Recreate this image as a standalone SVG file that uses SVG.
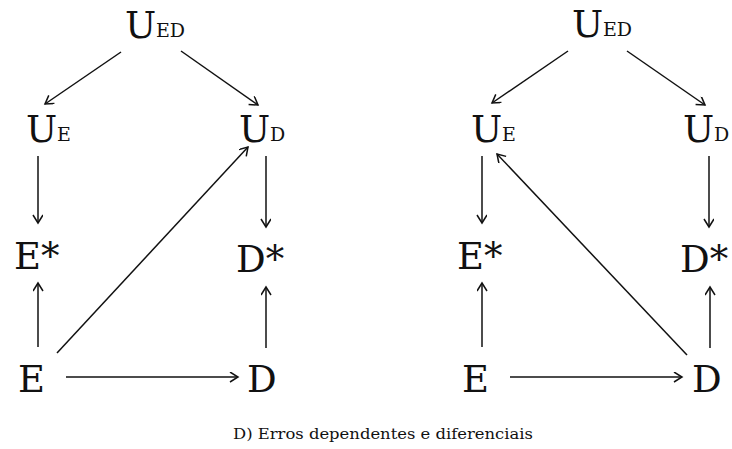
<svg xmlns="http://www.w3.org/2000/svg" width="732" height="449" viewBox="0 0 732 449">
<style>
text{fill:#111;font-family:"DejaVu Serif","Liberation Serif",serif}
.n{font-size:37px}
.s{font-size:19px}
.cap{font-size:15.5px}
.c line{stroke:#111;stroke-width:1.5;fill:none;marker-end:url(#ah)}
</style>
<defs>
<marker id="ah" markerWidth="12" markerHeight="12" refX="9" refY="5" orient="auto" markerUnits="userSpaceOnUse">
<path d="M1,0 L9,5 L1,10" fill="none" stroke="#111" stroke-width="1.5"/>
</marker>
</defs>
<rect width="732" height="449" fill="#fff"/>
<g id="left-UED"><text x="125" y="38" class="n">U</text><text x="156" y="37" class="s">ED</text></g>
<g id="left-UE"><text x="26" y="142" class="n">U</text><text x="57" y="141" class="s">E</text></g>
<g id="left-UD"><text x="239" y="142" class="n">U</text><text x="270" y="141" class="s">D</text></g>
<g id="left-Estar"><text x="14" y="269" class="n">E*</text></g>
<g id="left-Dstar"><text x="236" y="272" class="n">D*</text></g>
<g id="left-E"><text x="18" y="392" class="n">E</text></g>
<g id="left-D"><text x="247" y="392" class="n">D</text></g>
<g id="right-UED"><text x="572" y="37" class="n">U</text><text x="603" y="36" class="s">ED</text></g>
<g id="right-UE"><text x="471" y="142" class="n">U</text><text x="502" y="141" class="s">E</text></g>
<g id="right-UD"><text x="683" y="142" class="n">U</text><text x="714" y="141" class="s">D</text></g>
<g id="right-Estar"><text x="457" y="269" class="n">E*</text></g>
<g id="right-Dstar"><text x="680" y="272" class="n">D*</text></g>
<g id="right-E"><text x="462" y="392" class="n">E</text></g>
<g id="right-D"><text x="692" y="392" class="n">D</text></g>
<g id="caption"><text x="233" y="439" class="cap" textLength="300" lengthAdjust="spacingAndGlyphs">D) Erros dependentes e diferenciais</text></g>
<g id="connectors" class="c">
<line x1="121" y1="52" x2="45" y2="104"/>
<line x1="181" y1="51" x2="258" y2="105"/>
<line x1="38" y1="156" x2="38" y2="223"/>
<line x1="266" y1="156" x2="266" y2="227"/>
<line x1="38" y1="347" x2="38" y2="283"/>
<line x1="266" y1="348" x2="266" y2="287"/>
<line x1="66" y1="377" x2="238" y2="377"/>
<line x1="57" y1="353" x2="248" y2="147"/>
<line x1="568" y1="51" x2="492" y2="103"/>
<line x1="627" y1="51" x2="705" y2="105"/>
<line x1="482" y1="156" x2="482" y2="223"/>
<line x1="709" y1="156" x2="709" y2="227"/>
<line x1="482" y1="347" x2="482" y2="283"/>
<line x1="710" y1="348" x2="710" y2="287"/>
<line x1="510" y1="377" x2="682" y2="377"/>
<line x1="687" y1="355" x2="497" y2="154"/>
</g>
</svg>
